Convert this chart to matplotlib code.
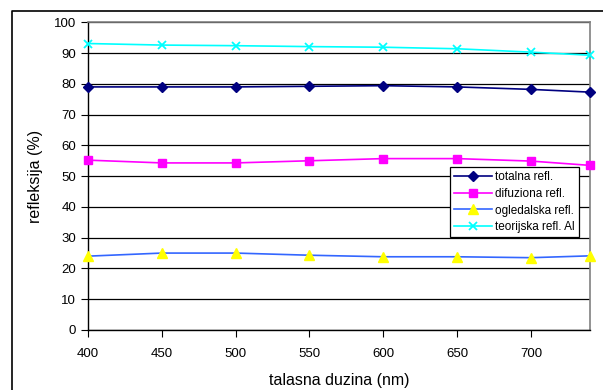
import matplotlib
matplotlib.use("Agg")
import matplotlib.pyplot as plt
from matplotlib.lines import Line2D

wavelength = [400, 450, 500, 550, 600, 650, 700, 740]
totalna = [79.0, 79.0, 79.0, 79.2, 79.4, 79.0, 78.2, 77.3]
difuziona = [55.2, 54.3, 54.3, 55.0, 55.7, 55.7, 54.9, 53.5]
ogledalska = [24.0, 25.0, 25.0, 24.3, 23.8, 23.8, 23.5, 24.1]
teorijska = [93.1, 92.6, 92.4, 92.1, 91.9, 91.4, 90.3, 89.3]
labels = ["totalna refl.", "difuziona refl.", "ogledalska refl.", "teorijska refl. Al"]

plt.rcParams['font.family'] = ['Liberation Sans', 'DejaVu Sans']

fig = plt.figure(figsize=(6.03, 3.90), dpi=100)
ax = fig.add_axes([88/603, 1-330/390, (590-88)/603, (330-22.3)/390])

ax.plot(wavelength, totalna, color='#000080', marker='D', ms=5, lw=1.2, label=labels[0], clip_on=False, zorder=3)
ax.plot(wavelength, difuziona, color='#FF00FF', marker='s', ms=6, lw=1.2, label=labels[1], clip_on=False, zorder=3)
ax.plot(wavelength, ogledalska, color='#3366FF', marker='^', ms=7, mfc='#FFFF00', mec='#FFFF00', lw=1.2, label=labels[2], clip_on=False, zorder=3)
ax.plot(wavelength, teorijska, color='#00FFFF', marker='x', ms=6, mew=1.3, lw=1.2, label=labels[3], clip_on=False, zorder=3)

ax.set_xlim(400, 740)
ax.set_ylim(0, 100)
ax.set_xticks([400, 450, 500, 550, 600, 650, 700])
ax.set_yticks(range(0, 101, 10))
ax.yaxis.grid(True, color='black', lw=0.9)
ax.set_axisbelow(True)
for s in ['top', 'right']:
    ax.spines[s].set_color('#808080')
    ax.spines[s].set_linewidth(1.2)
for s in ['left', 'bottom']:
    ax.spines[s].set_color('black')
    ax.spines[s].set_linewidth(1.0)
ax.tick_params(axis='both', direction='out', length=5, width=0.8, labelsize=9.5, colors='black')
ax.tick_params(axis='x', pad=8)

ax.set_xlabel('talasna duzina (nm)', fontsize=11.5, labelpad=9)
ax.set_ylabel('refleksija (%)', fontsize=11.5, labelpad=8)

leg = ax.legend(loc='upper left', bbox_to_anchor=((450-88)/502, 1-(167-22.3)/307.7),
                fontsize=8.5, frameon=True, fancybox=False, edgecolor='black',
                framealpha=1, borderpad=0.35, labelspacing=0.4, handlelength=3.2,
                handletextpad=0.3, borderaxespad=0)
leg.get_frame().set_linewidth(0.9)
leg.set_zorder(5)

# outer chart border (extends beyond canvas at right/bottom)
fig.add_artist(Line2D([12/603, 12/603, 1.01], [-0.01, 1-11/390, 1-11/390],
                      transform=fig.transFigure, color='black', lw=1.2))

fig.savefig('out.png', dpi=100)
